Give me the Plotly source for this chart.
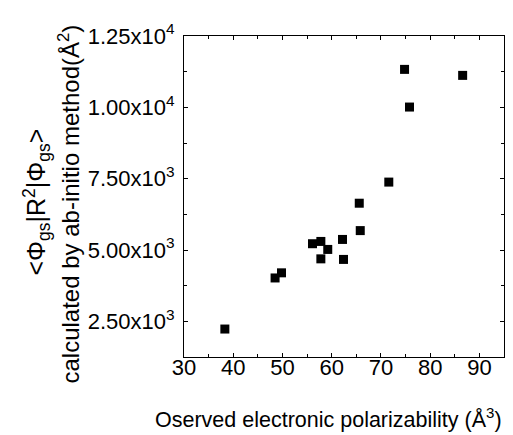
import plotly.graph_objects as go

# Data
x_obs = [38.3, 48.5, 49.8, 56.1, 57.8, 59.2, 57.8, 62.2, 62.4, 65.6, 65.8, 71.6, 74.8, 75.8, 86.6]
y_calc = [2230, 4020, 4200, 5220, 5300, 5020, 4690, 5370, 4670, 6640, 5680, 7380, 11330, 10010, 11120]

x_ticks = [30, 40, 50, 60, 70, 80, 90]
y_tickvals = [2500, 5000, 7500, 10000, 12500]
y_ticktext = ["2.50x10<sup>3</sup>", "5.00x10<sup>3</sup>", "7.50x10<sup>3</sup>",
              "1.00x10<sup>4</sup>", "1.25x10<sup>4</sup>"]

FONT = "Liberation Sans, Arial, sans-serif"

fig = go.Figure()
fig.add_trace(go.Scatter(
    x=x_obs, y=y_calc, mode="markers",
    marker=dict(symbol="square", size=9, color="black", line=dict(width=0)),
    showlegend=False,
))

axis_common = dict(
    showline=True, linecolor="black", linewidth=1, mirror="allticks",
    ticks="inside", ticklen=4, tickcolor="black", tickwidth=1,
    showgrid=False, zeroline=False,
    tickfont=dict(family=FONT, size=22, color="black"),
)

fig.update_xaxes(
    range=[30, 95], tickvals=x_ticks, ticklabelstandoff=-9,
    minor=dict(ticks="inside", ticklen=3, dtick=5, tick0=30, tickcolor="black", showgrid=False),
    **axis_common,
)
fig.update_yaxes(
    range=[1250, 12500], tickvals=y_tickvals, ticktext=y_ticktext, ticklabelstandoff=4,
    minor=dict(ticks="inside", ticklen=3, dtick=1250, tick0=0, tickcolor="black", showgrid=False),
    **axis_common,
)

fig.add_annotation(
    text="&lt;Φ<sub>gs</sub>|R<sup>2</sup>|Φ<sub>gs</sub>&gt;",
    xref="paper", yref="paper", x=0, y=0.5, xanchor="center", yanchor="middle",
    xshift=-148, yshift=-6, textangle=-90, showarrow=False,
    font=dict(family=FONT, size=25, color="black"),
)
fig.add_annotation(
    text="calculated by ab-initio method(Å<sup>2</sup>)",
    xref="paper", yref="paper", x=0, y=0.5, xanchor="center", yanchor="middle",
    xshift=-116, yshift=-8, textangle=-90, showarrow=False,
    font=dict(family=FONT, size=24, color="black"),
)
fig.add_annotation(
    text="Oserved electronic polarizability (Å<sup>3</sup>)",
    xref="paper", yref="paper", x=0.5, y=0, xanchor="center", yanchor="middle",
    xshift=-16, yshift=-61, showarrow=False,
    font=dict(family=FONT, size=21.5, color="black"),
)

fig.update_layout(
    width=513, height=435,
    margin=dict(l=176, r=17, t=26, b=86),
    paper_bgcolor="white", plot_bgcolor="white",
)

fig.write_html("out.html")
